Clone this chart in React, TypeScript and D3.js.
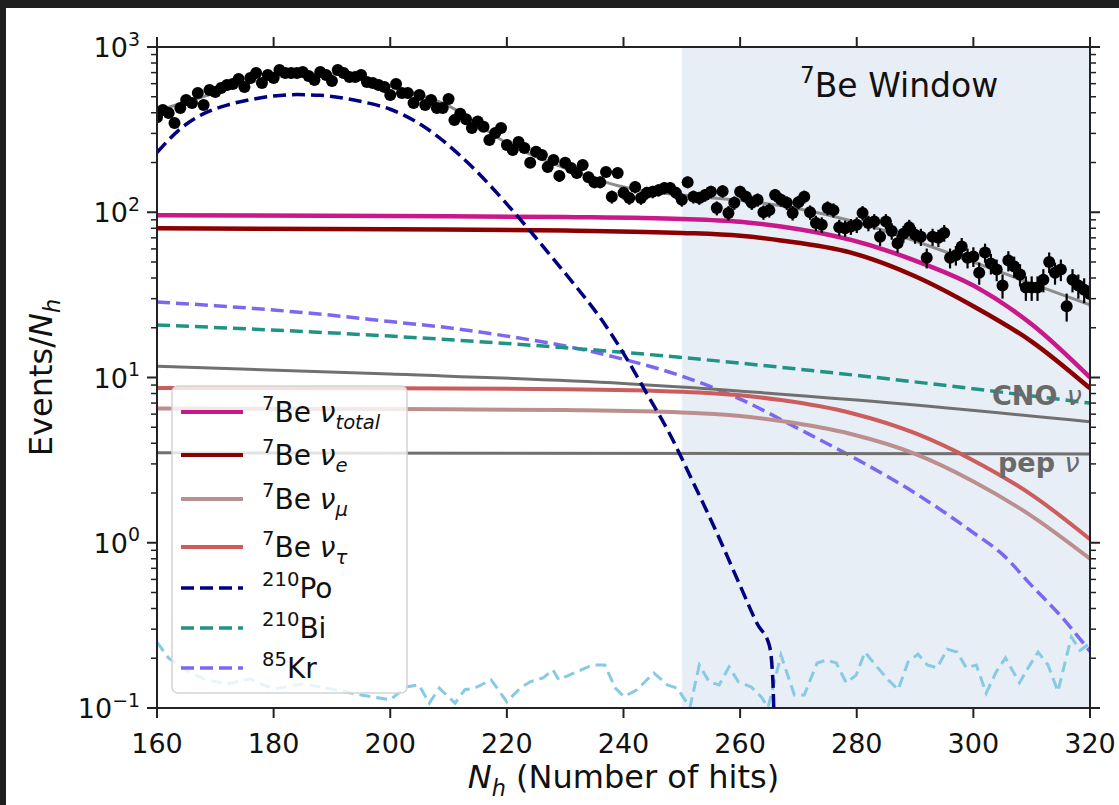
import React, { useEffect, useRef } from 'react';
import * as d3 from 'd3';

const W = 1119;
const H = 805;

// measured spectrum: one point per hit count, 160..320
const hitBins = d3.range(160, 321);
const eventCounts = [
  376, 416, 399, 347, 428, 478, 458, 527, 446, 550,
  535, 565, 589, 597, 640, 573, 649, 697, 606, 677,
  649, 726, 697, 697, 697, 706, 667, 631, 706, 677,
  622, 726, 697, 658, 658, 677, 614, 606, 589, 573,
  513, 597, 527, 527, 458, 513, 446, 478, 428, 428,
  485, 361, 394, 366, 324, 354, 329, 274, 302, 324,
  255, 238, 266, 245, 199, 232, 222, 188, 207, 166,
  199, 185, 173, 193, 163, 152, 152, 175, 124, 173,
  131, 122, 142, 122, 131, 133, 136, 140, 140, 131,
  119, 152, 124, 122, 127, 133, 106, 134, 99, 114,
  133, 124, 114, 119, 100, 103, 127, 119, 114, 99,
  115, 124, 100, 86, 84, 106, 103, 81, 80, 82,
  84, 99, 86, 88, 71, 88, 77, 65, 74, 81,
  73, 71, 53, 71, 70, 75, 53, 55, 62, 53,
  54, 43, 57, 49, 45, 36, 51, 47, 42, 35,
  35, 35, 39, 50, 43, 45, 27, 39, 36, 34,
  32,
];

// total fit
const fitN = [160, 170, 180, 185, 190, 195, 200, 210, 220, 230, 240, 250, 260, 270, 280, 290, 300, 310, 320];
const fitVal = [410, 527, 658, 687, 687, 658, 580, 440, 262, 185, 142, 127, 118, 105, 87, 67, 50, 37, 27.5];

// 7Be components
const beN = [160, 200, 230, 250, 260, 267, 279, 290, 300, 310, 320];
const beTotal = [96, 95, 93.5, 91, 87.5, 82, 68, 51, 36, 21, 10];
const beE = [80, 79, 77.5, 75, 72, 67.5, 57, 41, 27, 16.5, 8.6];
const beTau = [8.65, 8.6, 8.5, 8.2, 7.8, 7.3, 6.1, 4.6, 3.15, 1.95, 1.05];
const beMu = [6.5, 6.45, 6.35, 6.15, 5.85, 5.45, 4.55, 3.45, 2.35, 1.45, 0.8];

// other neutrinos
const cnoN = [160, 200, 240, 280, 320];
const cnoVal = [11.7, 10.5, 9.2, 7.3, 5.4];
const pepN = [160, 320];
const pepVal = [3.5, 3.45];

// backgrounds
const biN = [160, 200, 240, 280, 320];
const biVal = [20.8, 17.8, 14.2, 10.3, 7.0];
const krN = [160, 170, 180, 190, 200, 210, 220, 230, 240, 250, 260, 270, 280, 290, 300, 305, 310, 315, 320];
const krVal = [28.6, 27.2, 25.6, 23.8, 21.8, 20, 17.8, 15.5, 12.9, 10.2, 7.4, 4.9, 3.2, 2.0, 1.15, 0.85, 0.55, 0.36, 0.22];
const poN = [160, 164, 168, 172, 176, 180, 184, 188, 192, 196, 200, 204, 208, 212, 216, 220, 224, 228, 232, 236, 240, 244, 248, 252, 256, 260, 263, 265, 265.6, 265.8];
const poVal = [230, 320, 395, 445, 480, 505, 515, 510, 490, 460, 420, 360, 290, 220, 160, 112, 77, 52, 35, 23, 14, 8, 4.5, 2.3, 1.15, 0.55, 0.32, 0.24, 0.15, 0.09];

// unlabelled low-level component near the bottom
const lowN = [160, 162, 165, 168, 172, 176, 180, 185, 190, 195, 200, 202.7, 204.9, 206.7, 208.4, 211.1, 212.8, 214.5, 217.3, 220, 222.3, 224, 226.2, 227.9, 228.9, 231.9, 234.6, 236.8, 238.6, 240.1, 242.3, 245.2, 247.5, 249.2, 251.4, 253, 254.7, 256.4, 258.1, 259.7, 261.9, 263.6, 264.8, 267, 269.3, 271, 273.2, 274.8, 276.5, 278.2, 279.9, 281.4, 283.2, 285.4, 287.1, 288.8, 290.5, 292.1, 293.8, 295.5, 297.2, 298.8, 300.5, 302.2, 303.9, 305.5, 307.9, 309.4, 311.1, 312.8, 314.5, 316.8, 318.3, 320];
const lowVal = [0.25, 0.2, 0.17, 0.15, 0.14, 0.15, 0.13, 0.14, 0.13, 0.12, 0.112, 0.134, 0.138, 0.107, 0.132, 0.107, 0.129, 0.132, 0.148, 0.109, 0.132, 0.144, 0.152, 0.17, 0.148, 0.165, 0.182, 0.182, 0.132, 0.117, 0.129, 0.163, 0.138, 0.132, 0.101, 0.182, 0.144, 0.138, 0.177, 0.144, 0.134, 0.117, 0.101, 0.209, 0.12, 0.12, 0.187, 0.195, 0.187, 0.142, 0.158, 0.218, 0.182, 0.148, 0.129, 0.19, 0.212, 0.182, 0.175, 0.227, 0.218, 0.175, 0.182, 0.123, 0.165, 0.201, 0.142, 0.175, 0.218, 0.182, 0.126, 0.269, 0.223, 0.247];

const xTicks = [160, 180, 200, 220, 240, 260, 280, 300, 320];
const yMajor = [0.1, 1, 10, 100, 1000];
const yExp = ['\u22121', '0', '1', '2', '3'];

type Part = { t: string; sup?: boolean; sub?: boolean; it?: boolean; bold?: boolean };

const DASH = '13,6';

const legendItems: { color: string; dash?: string; width: number; parts: Part[] }[] = [
  { color: '#c8188a', width: 4, parts: [{ t: '7', sup: true }, { t: 'Be ' }, { t: 'ν', it: true }, { t: 'total', sub: true, it: true }] },
  { color: '#8b0000', width: 4, parts: [{ t: '7', sup: true }, { t: 'Be ' }, { t: 'ν', it: true }, { t: 'e', sub: true, it: true }] },
  { color: '#bc8f8f', width: 4, parts: [{ t: '7', sup: true }, { t: 'Be ' }, { t: 'ν', it: true }, { t: 'μ', sub: true, it: true }] },
  { color: '#cd5c5c', width: 4, parts: [{ t: '7', sup: true }, { t: 'Be ' }, { t: 'ν', it: true }, { t: 'τ', sub: true, it: true }] },
  { color: '#000080', width: 3.5, dash: DASH, parts: [{ t: '210', sup: true }, { t: 'Po' }] },
  { color: '#1f9486', width: 3.5, dash: DASH, parts: [{ t: '210', sup: true }, { t: 'Bi' }] },
  { color: '#7b68ee', width: 3.5, dash: DASH, parts: [{ t: '85', sup: true }, { t: 'Kr' }] },
];
const legendRows = [412, 455, 499, 547, 588, 628, 668];

const FONT = 'DejaVu Sans';

const rich = (sel: any, parts: Part[], size: number) => {
  let shift = 0;
  parts.forEach((p) => {
    const target = p.sup ? -0.42 * size : p.sub ? 0.24 * size : 0;
    sel.append('tspan')
      .attr('dy', target - shift)
      .attr('font-size', p.sup || p.sub ? size * 0.7 : size)
      .attr('font-style', p.it ? 'italic' : 'normal')
      .attr('font-weight', p.bold ? 'bold' : 'normal')
      .text(p.t);
    shift = target;
  });
};

const App: React.FC = () => {
  const svgRef = useRef<SVGSVGElement>(null);

  useEffect(() => {
    if (!svgRef.current) return;
    const svg = d3.select(svgRef.current);
    svg.selectAll('*').remove();

    // screenshot frame
    svg.append('rect').attr('width', W).attr('height', H).attr('fill', '#ffffff');
    svg.append('rect').attr('width', W).attr('height', 8).attr('fill', '#1f1f1f');
    svg.append('rect').attr('width', 6).attr('height', H).attr('fill', '#1f1f1f');

    const x = d3.scaleLinear().domain([160, 320]).range([157, 1090]);
    const y = d3.scaleLog().domain([0.1, 1000]).range([708, 47]);
    const [x0, x1] = x.range();
    const [y0, y1] = y.range();

    svg.append('defs').append('clipPath').attr('id', 'plot')
      .append('rect').attr('x', x0).attr('y', y1).attr('width', x1 - x0).attr('height', y0 - y1);

    // 7Be window shading
    svg.append('rect')
      .attr('x', x(250)).attr('y', y1)
      .attr('width', x(320) - x(250)).attr('height', y0 - y1)
      .attr('fill', '#e8eef5');

    const plot = svg.append('g').attr('clip-path', 'url(#plot)');
    const line = d3.line<[number, number]>()
      .x((d) => x(d[0]))
      .y((d) => y(d[1]));

    const curve = (ns: number[], vs: number[], color: string, width: number, dash?: string, linear?: boolean) => {
      const pts = ns.map((n, i) => [n, vs[i]] as [number, number]);
      plot.append('path')
        .attr('d', line.curve(linear ? d3.curveLinear : d3.curveMonotoneX)(pts))
        .attr('fill', 'none')
        .attr('stroke', color)
        .attr('stroke-width', width)
        .attr('stroke-dasharray', dash ?? null);
    };

    curve(lowN, lowVal, '#86cbe3', 3, '11,6', true);
    curve(krN, krVal, '#7b68ee', 3.5, DASH);
    curve(biN, biVal, '#1f9486', 3.5, DASH);
    curve(pepN, pepVal, '#707070', 3);
    curve(cnoN, cnoVal, '#707070', 3);
    curve(beN, beMu, '#bc8f8f', 4);
    curve(beN, beTau, '#cd5c5c', 4);
    curve(beN, beE, '#8b0000', 4.5);
    curve(beN, beTotal, '#c8188a', 4.5);
    curve(poN, poVal, '#000080', 3.5, DASH);
    curve(fitN, fitVal, '#8c8c8c', 3);

    // data with Poisson error bars
    const pts = hitBins.map((n, i) => ({ n, v: eventCounts[i] }));
    plot.append('g').selectAll('line').data(pts).join('line')
      .attr('x1', (d) => x(d.n)).attr('x2', (d) => x(d.n))
      .attr('y1', (d) => y(d.v + Math.sqrt(d.v))).attr('y2', (d) => y(d.v - Math.sqrt(d.v)))
      .attr('stroke', '#000').attr('stroke-width', 2.2);
    plot.append('g').selectAll('circle').data(pts).join('circle')
      .attr('cx', (d) => x(d.n)).attr('cy', (d) => y(d.v)).attr('r', 6)
      .attr('fill', '#000');

    // in-plot labels
    const t1 = svg.append('text').attr('x', 992).attr('y', 405)
      .attr('font-family', FONT).attr('fill', '#6a6a6a').style('white-space', 'pre');
    rich(t1, [{ t: 'CNO ', bold: true }, { t: 'ν', it: true }], 27);
    const t2 = svg.append('text').attr('x', 998).attr('y', 472)
      .attr('font-family', FONT).attr('fill', '#6a6a6a').style('white-space', 'pre');
    rich(t2, [{ t: 'pep ', bold: true }, { t: 'ν', it: true }], 27);
    const tw = svg.append('text').attr('x', 800).attr('y', 97)
      .attr('font-family', FONT).attr('fill', '#111').style('white-space', 'pre');
    rich(tw, [{ t: '7', sup: true }, { t: 'Be Window' }], 33);

    // axes frame
    const ax = svg.append('g').attr('stroke', '#222').attr('stroke-width', 2);
    ax.append('rect').attr('x', x0).attr('y', y1).attr('width', x1 - x0).attr('height', y0 - y1).attr('fill', 'none');
    xTicks.forEach((t) => {
      ax.append('line').attr('x1', x(t)).attr('x2', x(t)).attr('y1', y0).attr('y2', y0 + 10);
      ax.append('line').attr('x1', x(t)).attr('x2', x(t)).attr('y1', y1).attr('y2', y1 - 10);
    });
    yMajor.forEach((m, i) => {
      ax.append('line').attr('x1', x0 - 10).attr('x2', x0).attr('y1', y(m)).attr('y2', y(m));
      ax.append('line').attr('x1', x1).attr('x2', x1 + 10).attr('y1', y(m)).attr('y2', y(m));
      if (i < yMajor.length - 1) {
        for (let k = 2; k <= 9; k++) {
          const v = m * k;
          ax.append('line').attr('x1', x0 - 6).attr('x2', x0).attr('y1', y(v)).attr('y2', y(v)).attr('stroke-width', 1.5);
          ax.append('line').attr('x1', x1).attr('x2', x1 + 6).attr('y1', y(v)).attr('y2', y(v)).attr('stroke-width', 1.5);
        }
      }
    });

    // tick labels
    xTicks.forEach((t) => {
      svg.append('text').attr('x', x(t)).attr('y', 753)
        .attr('text-anchor', 'middle').attr('font-family', FONT).attr('font-size', 27)
        .attr('fill', '#111').text(String(t));
    });
    yMajor.forEach((m, i) => {
      const tl = svg.append('text').attr('x', 140).attr('y', y(m) + 10)
        .attr('text-anchor', 'end').attr('font-family', FONT).attr('fill', '#111');
      rich(tl, [{ t: '10' }, { t: yExp[i], sup: true }], 27);
    });

    // axis titles
    const xl = svg.append('text').attr('x', (x0 + x1) / 2).attr('y', 788)
      .attr('text-anchor', 'middle').attr('font-family', FONT).attr('fill', '#111').style('white-space', 'pre');
    rich(xl, [{ t: 'N', it: true }, { t: 'h', sub: true, it: true }, { t: ' (Number of hits)' }], 32);
    const yl = svg.append('text')
      .attr('transform', `translate(52,${(y0 + y1) / 2}) rotate(-90)`)
      .attr('text-anchor', 'middle').attr('font-family', FONT).attr('fill', '#111');
    rich(yl, [{ t: 'Events/' }, { t: 'N', it: true }, { t: 'h', sub: true, it: true }], 32);

    // legend
    const lg = svg.append('g');
    lg.append('rect').attr('x', 172).attr('y', 386).attr('width', 235).attr('height', 307).attr('rx', 6)
      .attr('fill', '#fff').attr('fill-opacity', 0.8).attr('stroke', '#d4d4d4').attr('stroke-width', 1.5);
    legendItems.forEach((it, i) => {
      const ry = legendRows[i];
      lg.append('line').attr('x1', 181).attr('x2', 243).attr('y1', ry).attr('y2', ry)
        .attr('stroke', it.color).attr('stroke-width', it.width).attr('stroke-dasharray', it.dash ?? null);
      const tx = lg.append('text').attr('x', 262).attr('y', ry + 10)
        .attr('font-family', FONT).attr('fill', '#111').style('white-space', 'pre');
      rich(tx, it.parts, 28);
    });
  }, []);

  return <svg ref={svgRef} width={W} height={H} style={{ position: 'absolute', left: 0, top: 0 }} />;
};

export default App;
